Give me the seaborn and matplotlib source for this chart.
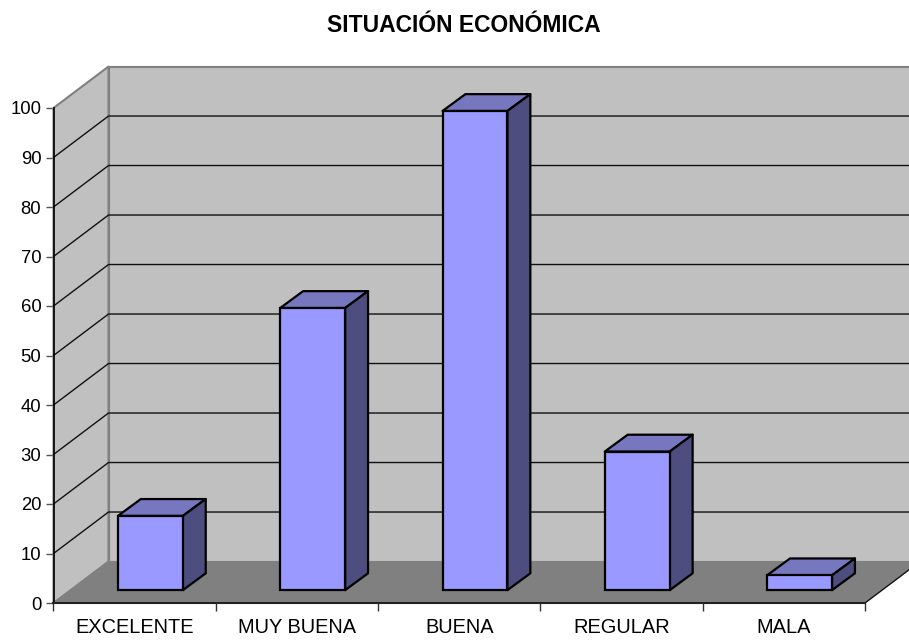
import matplotlib
matplotlib.use("Agg")
import matplotlib.pyplot as plt
from matplotlib.patches import Polygon
import seaborn as sns

categorias = ["EXCELENTE", "MUY BUENA", "BUENA", "REGULAR", "MALA"]
valores = [15, 57, 96.8, 28, 3]
ticks_y = [0, 10, 20, 30, 40, 50, 60, 70, 80, 90, 100]

# perspectiva falsa, en unidades de datos
PROF_X = 0.339
PROF_Y = 8.38
BASE_BARRA = 2.6
DESP_BARRA = 0.097
ANCHO_BARRA = 0.4
BARRA_PX = 0.141
BARRA_PY = 3.4

sns.set_style("white")
plt.rcParams["font.family"] = ["Liberation Sans", "DejaVu Sans"]
plt.rcParams["text.color"] = "black"

fig = plt.figure(figsize=(9.09, 6.41), dpi=100)
ax = fig.add_axes([53.5 / 909, 38 / 641, 811.5 / 909, 495 / 641])

sns.barplot(x=categorias, y=valores, color="#9999ff", saturation=1, width=ANCHO_BARRA,
            bottom=BASE_BARRA, edgecolor="black", linewidth=1.6, ax=ax, zorder=5)

ax.set_xlim(-0.5, 4.5)
ax.set_ylim(0, 100)


def poligono(puntos, color, edge="none", lw=0, z=1):
    ax.add_patch(Polygon(puntos, closed=True, facecolor=color, edgecolor=edge, linewidth=lw,
                         zorder=z, clip_on=False, joinstyle="round"))


# paredes y suelo
x0, x1 = -0.5, 4.5
poligono([(x0 + PROF_X, 0 + PROF_Y), (x1 + PROF_X, 0 + PROF_Y), (x1 + PROF_X, 100 + PROF_Y),
          (x0 + PROF_X, 100 + PROF_Y)], "#c0c0c0", "#808080", 1.5)
poligono([(x0, 0), (x0 + PROF_X, PROF_Y), (x0 + PROF_X, 100 + PROF_Y), (x0, 100)], "#c0c0c0", "#808080", 1.5)
poligono([(x0, 0), (x1, 0), (x1 + PROF_X, PROF_Y), (x0 + PROF_X, PROF_Y)], "#808080", z=2)

# lineas de rejilla
for t in ticks_y[1:-1]:
    ax.plot([x0, x0 + PROF_X, x1 + PROF_X], [t, t + PROF_Y, t + PROF_Y], color="#111111", lw=1,
            zorder=1.5, clip_on=False)
ax.plot([x1, x1 + PROF_X], [0, PROF_Y], color="#111111", lw=1, zorder=3, clip_on=False)

# barras: la cara frontal viene de seaborn, las otras dos se sacan de ella
for barra in ax.patches[:len(valores)]:
    barra.set_x(barra.get_x() + DESP_BARRA)
    izq = barra.get_x()
    der = izq + barra.get_width()
    abajo = barra.get_y()
    arriba = abajo + barra.get_height()
    poligono([(izq, arriba), (der, arriba), (der + BARRA_PX, arriba + BARRA_PY),
              (izq + BARRA_PX, arriba + BARRA_PY)], "#7777bf", "black", 1.6, 4)
    poligono([(der, abajo), (der + BARRA_PX, abajo + BARRA_PY), (der + BARRA_PX, arriba + BARRA_PY),
              (der, arriba)], "#4d4d80", "black", 1.6, 4)

for lado in ["top", "right"]:
    ax.spines[lado].set_visible(False)
ax.spines["left"].set_color("black")
ax.spines["left"].set_linewidth(1.2)
ax.spines["bottom"].set_color("#222222")
ax.spines["bottom"].set_linewidth(1.5)
ax.spines["left"].set_zorder(6)
ax.spines["bottom"].set_zorder(6)
ax.patch.set_visible(False)

ax.set_yticks(ticks_y)
ax.tick_params(axis="y", length=5.8, width=1, color="#555555", labelsize=13.3, pad=3,
               labelcolor="black", left=True)
ax.set_xticks([i - 0.5 for i in range(len(categorias) + 1)])
ax.set_xticklabels([])
ax.set_xticks(range(len(categorias)), minor=True)
ax.set_xticklabels(categorias, minor=True)
ax.tick_params(axis="x", which="major", length=5.8, width=1, color="#333333", bottom=True)
ax.tick_params(axis="x", which="minor", length=0, labelsize=14.4, pad=11, labelcolor="black")
ax.set_xlabel("")
ax.set_ylabel("")

fig.text(464 / 909, 1 - 25.5 / 641, "SITUACIÓN ECONÓMICA", ha="center", va="center",
         fontsize=16.5, fontweight="bold", color="black")

fig.savefig("out.png", dpi=100)
